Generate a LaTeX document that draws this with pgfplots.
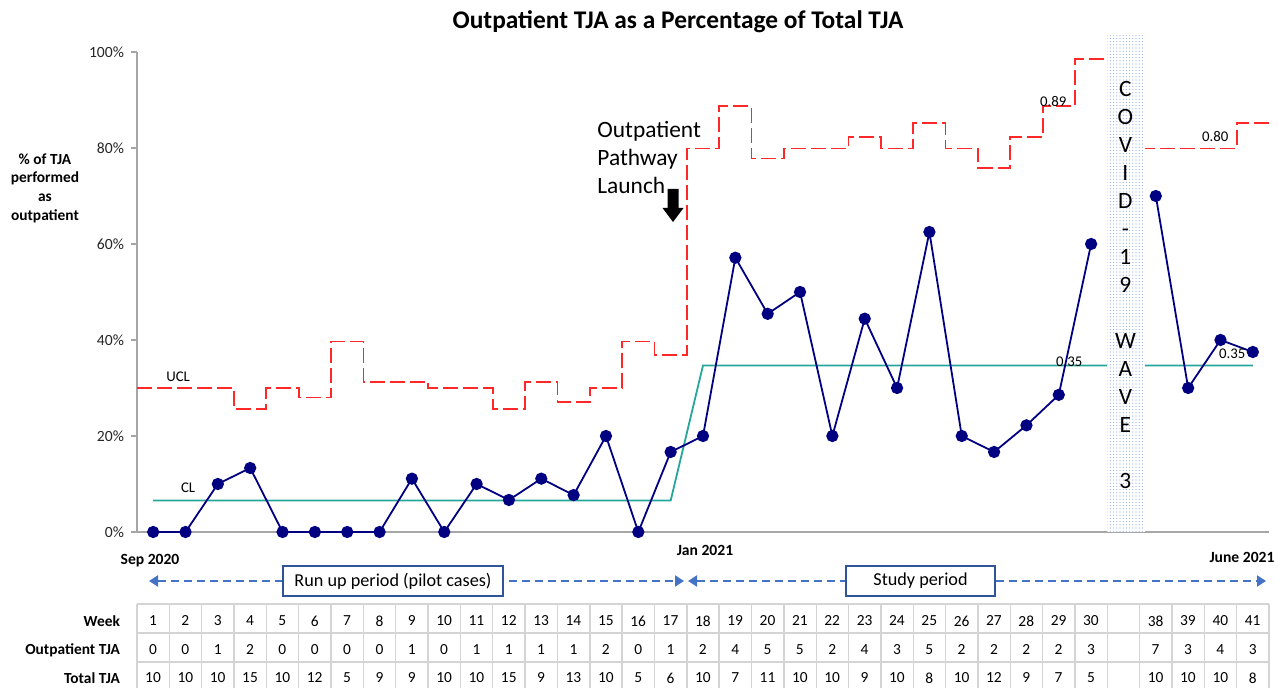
\documentclass[border=0pt]{standalone}
\usepackage{fontspec}
\setmainfont{Carlito}
\usepackage{pgfplots}
\usepackage{pgfplotstable}
\pgfplotsset{compat=1.18}
\usetikzlibrary{arrows.meta,patterns.meta}
\definecolor{navy}{RGB}{0,0,128}
\definecolor{uclred}{RGB}{255,40,40}
\definecolor{clteal}{RGB}{38,166,154}
\definecolor{axgray}{RGB}{166,166,166}
\definecolor{arrblue}{RGB}{68,114,196}
\definecolor{boxblue}{RGB}{47,85,151}
\definecolor{gridgray}{RGB}{212,212,212}
\definecolor{dotblue}{RGB}{140,170,230}

% proportion of outpatient TJA (weeks 1-30 at x=0..29; weeks 38-41 at x=31..34)
\pgfplotstableread{
x y
0 0
1 0
2 0.1
3 0.1333
4 0
5 0
6 0
7 0
8 0.1111
9 0
10 0.1
11 0.0667
12 0.1111
13 0.0769
14 0.2
15 0
16 0.1667
17 0.2
18 0.5714
19 0.4545
20 0.5
21 0.2
22 0.4444
23 0.3
24 0.625
25 0.2
26 0.1667
27 0.2222
28 0.2857
29 0.6
}\dataA
\pgfplotstableread{
x y
31 0.7
32 0.3
33 0.4
34 0.375
}\dataB
% centre line
\pgfplotstableread{
x y
0 0.0655
16 0.0655
17 0.347
30 0.347
34 0.347
}\cl
% upper control limit (steps start half a week before each point)
\pgfplotstableread{
x y
-0.5 0.300
0.5 0.300
1.5 0.300
2.5 0.257
3.5 0.300
4.5 0.280
5.5 0.397
6.5 0.313
7.5 0.313
8.5 0.300
9.5 0.300
10.5 0.257
11.5 0.313
12.5 0.271
13.5 0.300
14.5 0.397
15.5 0.369
16.5 0.799
17.5 0.887
18.5 0.778
19.5 0.799
20.5 0.799
21.5 0.823
22.5 0.799
23.5 0.852
24.5 0.799
25.5 0.759
26.5 0.823
27.5 0.887
28.5 0.986
29.5 0.986
}\uclA
\pgfplotstableread{
x y
30.5 0.799
31.5 0.799
32.5 0.799
33.5 0.852
34.5 0.852
}\uclB

\begin{document}
\begin{tikzpicture}[x=0.5pt,y=0.5pt]
\useasboundingbox (0,0) rectangle (1278,688);
\begin{axis}[
  at={(68.5pt,78pt)}, anchor=south west,
  scale only axis, width=566pt, height=240pt,
  xmin=-0.5, xmax=34.5, ymin=0, ymax=1,
  axis lines*=left,
  axis line style={axgray, line width=0.7pt},
  xtick=\empty,
  ytick={0,0.2,0.4,0.6,0.8,1},
  yticklabels={0\%,20\%,40\%,60\%,80\%,100\%},
  /pgf/number format/assume math mode=true,
  tick align=outside, major tick length=3pt,
  tick style={axgray, line width=0.7pt},
  yticklabel style={font=\fontsize{7.8}{9}\selectfont, text=black!85},
  clip=false,
]
\addplot[uclred, line width=0.9pt, dash pattern=on 7.5pt off 2.5pt, const plot mark left] table {\uclA};
\addplot[uclred, line width=0.9pt, dash pattern=on 7.5pt off 2.5pt, const plot mark left] table {\uclB};
\addplot[clteal, line width=0.9pt] table {\cl};
\addplot[navy, line width=0.9pt, mark=*, mark size=2.6pt] table {\dataA};
\addplot[navy, line width=0.9pt, mark=*, mark size=2.6pt] table {\dataB};

\fill[white] (axis cs:29.5,0) rectangle (axis cs:30.67,1.035);
\fill[pattern={Dots[distance=1.6pt,radius=0.3pt]}, pattern color=dotblue] (axis cs:29.5,0) rectangle (axis cs:30.67,1.035);
\node[align=center, font=\fontsize{11.7}{14}\selectfont] at (axis cs:30.06,0.5146)
  {C\\O\\V\\I\\D\\-\\1\\9\\\mbox{}\\W\\A\\V\\E\\\mbox{}\\3};

\node[font=\fontsize{7.4}{9}\selectfont] at (axis cs:0.77,0.323) {UCL};
\node[font=\fontsize{7.4}{9}\selectfont] at (axis cs:1.08,0.092) {CL};
\node[font=\fontsize{7.4}{9}\selectfont] at (axis cs:27.83,0.896) {0.89};
\node[font=\fontsize{7.4}{9}\selectfont] at (axis cs:28.32,0.354) {0.35};
\node[font=\fontsize{7.4}{9}\selectfont] at (axis cs:32.84,0.823) {0.80};
\node[font=\fontsize{7.4}{9}\selectfont] at (axis cs:33.36,0.371) {0.35};
\end{axis}

% title and axis label
\node[font=\bfseries\fontsize{12.7}{15}\selectfont] at (678,666) {Outpatient TJA as a Percentage of Total TJA};
\node[align=center, font=\bfseries\fontsize{7.7}{9.35}\selectfont] at (45,500) {\% of TJA\\performed\\as\\outpatient};

% launch annotation
\node[anchor=west, align=left, font=\fontsize{11.7}{14}\selectfont, inner sep=0pt] at (597,530) {Outpatient\\Pathway\\Launch};
\fill[black] (667.5,499) -- (678.5,499) -- (678.5,480) -- (683.5,480) -- (673,466) -- (662.5,480) -- (667.5,480) -- cycle;

% dates
\node[font=\bfseries\fontsize{7.8}{9}\selectfont] at (150,127) {Sep 2020};
\node[font=\bfseries\fontsize{7.8}{9}\selectfont] at (705,138) {Jan 2021};
\node[font=\bfseries\fontsize{7.8}{9}\selectfont] at (1242,131) {June 2021};

% periods
\draw[arrblue, line width=1pt, dash pattern=on 4pt off 2.5pt,
  {Triangle[width=5.5pt,length=4.5pt]}-{Triangle[width=5.5pt,length=4.5pt]}] (149,107) -- (684,107);
\draw[arrblue, line width=1pt, dash pattern=on 4pt off 2.5pt,
  {Triangle[width=5.5pt,length=4.5pt]}-{Triangle[width=5.5pt,length=4.5pt]}] (688,107) -- (1266,107);
\node[draw=boxblue, line width=1pt, fill=white, minimum width=110pt, minimum height=15pt, inner sep=0pt,
  font=\fontsize{9.1}{11}\selectfont] at (393,107) {Run up period (pilot cases)};
\node[draw=boxblue, line width=1pt, fill=white, minimum width=74.5pt, minimum height=15pt, inner sep=0pt,
  font=\fontsize{9.1}{11}\selectfont] at (920.5,107) {Study period};

% table
\foreach \k in {0,...,35} \draw[gridgray, line width=0.7pt] ({137+32.343*\k},84) -- ({137+32.343*\k},-4);
\foreach \yy in {84,55,26} \draw[gridgray, line width=0.7pt] (137,\yy) -- (1269,\yy);
\node[anchor=east, font=\bfseries\fontsize{7.7}{9}\selectfont] at (127,67) {Week};
\node[anchor=east, font=\bfseries\fontsize{7.7}{9}\selectfont] at (127,38) {Outpatient TJA};
\node[anchor=east, font=\bfseries\fontsize{7.7}{9}\selectfont] at (127,10) {Total TJA};
\foreach \v [count=\i from 0] in {1,2,3,4,5,6,7,8,9,10,11,12,13,14,15,16,17,18,19,20,21,22,23,24,25,26,27,28,29,30,{},38,39,40,41}
  \node[font=\fontsize{7.7}{9}\selectfont] at ({153+32.343*\i},67) {\v};
\foreach \v [count=\i from 0] in {0,0,1,2,0,0,0,0,1,0,1,1,1,1,2,0,1,2,4,5,5,2,4,3,5,2,2,2,2,3,{},7,3,4,3}
  \node[font=\fontsize{7.7}{9}\selectfont] at ({153+32.343*\i},38) {\v};
\foreach \v [count=\i from 0] in {10,10,10,15,10,12,5,9,9,10,10,15,9,13,10,5,6,10,7,11,10,10,9,10,8,10,12,9,7,5,{},10,10,10,8}
  \node[font=\fontsize{7.7}{9}\selectfont] at ({153+32.343*\i},10) {\v};
\end{tikzpicture}
\end{document}
